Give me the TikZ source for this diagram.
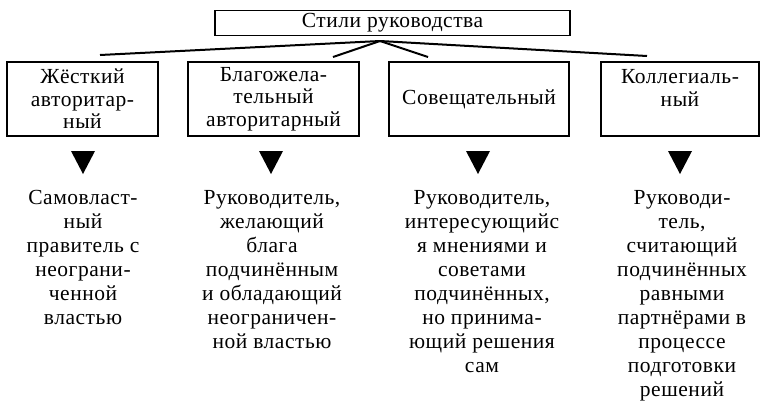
\documentclass[tikz,border=0pt]{standalone}
\usepackage{fontspec}
\setmainfont{Liberation Serif}[LetterSpace=2.5]
\begin{document}
\begin{tikzpicture}[x=1pt,y=-1pt,
  box/.style={draw, line width=1.3pt, align=center, inner sep=0pt, font=\fontsize{21.5}{22.5}\selectfont},
  desc/.style={align=center, inner sep=0pt, anchor=north, font=\fontsize{21.5}{24}\selectfont},
  conn/.style={line width=2pt},
  tri/.style={fill=black}]
\useasboundingbox (0,0) rectangle (768,407);
\node[box, minimum width=355pt, minimum height=25pt] (top) at (392.5,23) {\raisebox{-1.5pt}{Стили руководства}};
\node[box, minimum width=151pt, minimum height=74pt] (b1) at (82.5,99) {Жёсткий\\авторитар-\\ный};
\node[box, minimum width=171pt, minimum height=74pt] (b2) at (273.5,99) {Благожела-\\тельный\\авторитарный};
\node[box, minimum width=180pt, minimum height=74pt] (b3) at (479,99) {Совещательный};
\node[box, minimum width=158pt, minimum height=74pt] (b4) at (680,99) {Коллегиаль-\\ный\\\mbox{}};
\coordinate (hub) at (380,41);
\coordinate (e1) at (100,55);
\coordinate (e2) at (333,57);
\coordinate (e3) at (428,57);
\coordinate (e4) at (647,56);
\draw[conn] (hub) -- (e1);
\draw[conn] (hub) -- (e2);
\draw[conn] (hub) -- (e3);
\draw[conn] (hub) -- (e4);
\coordinate (t1) at (83,151);
\coordinate (t2) at (271,151);
\coordinate (t3) at (478,151);
\coordinate (t4) at (680,151);
\foreach \t in {t1,t2,t3,t4}
  \fill[tri] (\t) ++(-12,0) -- ++(24,0) -- ++(-12,23) -- cycle;
\node[desc] (d1) at (83,190) {Самовласт-\\ный\\правитель с\\неограни-\\ченной\\властью};
\node[desc] (d2) at (272,190) {Руководитель,\\желающий\\блага\\подчинённым\\и обладающий\\неограничен-\\ной властью};
\node[desc] (d3) at (482,190) {Руководитель,\\интересующийс\\я мнениями и\\советами\\подчинённых,\\но принима-\\ющий решения\\сам};
\node[desc] (d4) at (682,190) {Руководи-\\тель,\\считающий\\подчинённых\\равными\\партнёрами в\\процессе\\подготовки\\решений};
\end{tikzpicture}
\end{document}
